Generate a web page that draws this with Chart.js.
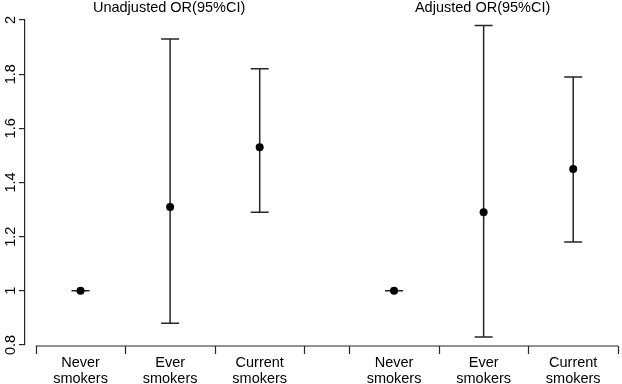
<!DOCTYPE html>
<html>
<head>
<meta charset="utf-8">
<script src="https://cdn.jsdelivr.net/npm/chart.js@4"></script>
<style>
  html, body { margin: 0; padding: 0; background: #fff; }
</style>
</head>
<body>
<canvas id="orChart" width="622" height="384"></canvas>
<script>
const groups = ["Unadjusted OR(95%CI)", "Adjusted OR(95%CI)"];
const categories = [["Never", "smokers"], ["Ever", "smokers"], ["Current", "smokers"]];
const unadjustedOR = [1.0, 1.31, 1.53];
const unadjustedLow = [1.0, 0.88, 1.29];
const unadjustedHigh = [1.0, 1.93, 1.82];
const adjustedOR = [1.0, 1.29, 1.45];
const adjustedLow = [1.0, 0.83, 1.18];
const adjustedHigh = [1.0, 1.98, 1.79];
const yTicks = [0.8, 1, 1.2, 1.4, 1.6, 1.8, 2];

const FONT = "'Liberation Sans', Arial, Helvetica, sans-serif";
const INK = "#262626";
const groupGap = 0.5;

// x position of category i inside group g
const pos = (g, i) => g * (categories.length + groupGap) + i + 0.5;

const points = [];
[[unadjustedOR, unadjustedLow, unadjustedHigh], [adjustedOR, adjustedLow, adjustedHigh]].forEach((set, g) => {
  set[0].forEach((v, i) => {
    points.push({ x: pos(g, i), y: v, lo: set[1][i], hi: set[2][i] });
  });
});
const tickPositions = points.map((p) => p.x);

const errorBars = {
  id: "errorBars",
  beforeDatasetsDraw(chart) {
    const { ctx, scales: { x, y } } = chart;
    ctx.save();
    ctx.strokeStyle = INK;
    ctx.lineWidth = 1.5;
    points.forEach((p) => {
      const px = x.getPixelForValue(p.x);
      const yLo = y.getPixelForValue(p.lo);
      const yHi = y.getPixelForValue(p.hi);
      ctx.beginPath();
      ctx.moveTo(px, yLo);
      ctx.lineTo(px, yHi);
      ctx.moveTo(px - 9, yLo);
      ctx.lineTo(px + 9, yLo);
      ctx.moveTo(px - 9, yHi);
      ctx.lineTo(px + 9, yHi);
      ctx.stroke();
    });
    ctx.restore();
  },
};

// R style x axis: one line with ticks between categories, plus group titles
const groupAxis = {
  id: "groupAxis",
  afterDraw(chart) {
    const { ctx, scales: { x }, chartArea } = chart;
    const yLine = chartArea.bottom + 1;
    const n = categories.length;
    ctx.save();
    ctx.strokeStyle = INK;
    ctx.lineWidth = 1.2;
    ctx.beginPath();
    ctx.moveTo(x.getPixelForValue(pos(0, 0) - 0.5), yLine);
    ctx.lineTo(x.getPixelForValue(pos(groups.length - 1, n - 1) + 0.5), yLine);
    groups.forEach((gName, g) => {
      for (let i = 0; i <= n; i++) {
        const bx = Math.round(x.getPixelForValue(pos(g, 0) - 0.5 + i)) + 0.5;
        ctx.moveTo(bx, yLine);
        ctx.lineTo(bx, yLine + 8);
      }
    });
    ctx.stroke();

    ctx.fillStyle = "#000";
    ctx.font = "14.5px " + FONT;
    ctx.textAlign = "center";
    ctx.textBaseline = "middle";
    groups.forEach((gName, g) => {
      ctx.fillText(gName, x.getPixelForValue(pos(g, (n - 1) / 2)) - 1, 8);
    });
    ctx.restore();
  },
};

new Chart(document.getElementById("orChart"), {
  type: "scatter",
  data: {
    datasets: [
      {
        data: points,
        pointRadius: 4,
        pointHoverRadius: 4,
        backgroundColor: "#000",
        borderWidth: 0,
      },
    ],
  },
  options: {
    responsive: false,
    animation: false,
    devicePixelRatio: 1,
    layout: { padding: { top: 20, right: 1, left: 0, bottom: 0 } },
    plugins: { legend: { display: false }, tooltip: { enabled: false } },
    scales: {
      x: {
        type: "linear",
        min: -0.12,
        max: 6.5,
        grid: { display: false, drawTicks: false },
        border: { display: false },
        afterBuildTicks: (s) => {
          s.ticks = tickPositions.map((v) => ({ value: v }));
        },
        afterFit: (s) => {
          s.height = 39;
        },
        ticks: {
          autoSkip: false,
          minRotation: 0,
          maxRotation: 0,
          padding: 10,
          color: "#000",
          font: { family: FONT, size: 14.5, lineHeight: 1.1 },
          callback: (v, i) => categories[i % categories.length],
        },
      },
      y: {
        min: 0.8,
        max: 2,
        grid: { drawOnChartArea: false, tickLength: 6, color: INK, lineWidth: 1.2 },
        border: { display: true, color: INK, width: 1.2 },
        afterBuildTicks: (s) => {
          s.ticks = yTicks.map((v) => ({ value: v }));
        },
        afterFit: (s) => {
          s.width = 25;
        },
        ticks: {
          minRotation: 90,
          maxRotation: 90,
          crossAlign: "center",
          padding: -2,
          color: "#000",
          font: { family: FONT, size: 14.5 },
          callback: (v) => String(+v.toFixed(1)),
        },
      },
    },
  },
  plugins: [errorBars, groupAxis],
});
</script>
</body>
</html>
